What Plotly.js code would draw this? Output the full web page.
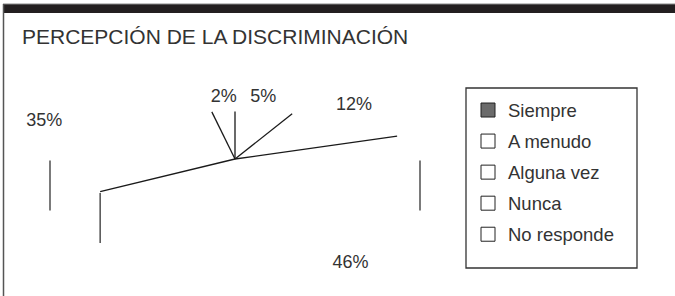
<!DOCTYPE html>
<html>
<head>
<meta charset="utf-8">
<script src="https://cdn.plot.ly/plotly-3.0.1.min.js"></script>
<style>html,body{margin:0;padding:0;background:#fff;}#chart{width:675px;height:296px;}</style>
</head>
<body>
<div id="chart"></div>
<script>
// ---- data ----
const categories = ["Siempre", "A menudo", "Alguna vez", "Nunca", "No responde"];
const values = [2, 5, 12, 46, 35];
const valueLabels = ["2%", "5%", "12%", "46%", "35%"];
const chartTitle = "PERCEPCIÓN DE LA DISCRIMINACIÓN";

// ---- styles / geometry of the drawn 3D pie (pixel units of the axes) ----
const W = 675, H = 296;
const cx = 235, cy = 159, ra = 185, rb = 47.5, depth = 50;
const labelRa = 240, labelRb = 62, labelSquash = 0.75;
const fills = ["#6b6b6b", "#ffffff", "#ffffff", "#ffffff", "#ffffff"];
const FONT = "Liberation Sans, Arial, sans-serif";

const total = values.reduce((s, v) => s + v, 0);
const deg = Math.PI / 180;
// slices go clockwise; the first slice ends at 12 o'clock
const startAngle = 90 + values[0] / total * 360;
const boundaries = [];
const mids = [];
let acc = startAngle;
values.forEach(v => {
  const sweep = v / total * 360;
  boundaries.push(acc);
  mids.push(acc - sweep / 2);
  acc -= sweep;
});
const pt = a => [cx + ra * Math.cos(a * deg), cy - rb * Math.sin(a * deg)];

// spokes on the top face
const sx = [], sy = [];
boundaries.forEach(b => {
  const p = pt(b);
  sx.push(cx, p[0], null);
  sy.push(cy, p[1], null);
});
// vertical side edges: the two extremes + front boundaries
const ex = [], ey = [];
const edgeAngles = [180, 0].concat(boundaries.filter(b => Math.sin(b * deg) < -1e-6));
edgeAngles.forEach(a => {
  const p = pt(a);
  ex.push(p[0], p[0], null);
  ey.push(p[1] + 1.5, p[1] + 1.5 + depth, null);
});
// value labels, placed on an outer ellipse, pulled toward the nearest vertical
const lx = [], ly = [];
mids.forEach(m => {
  let a = ((m % 360) + 540) % 360 - 180; // -180..180
  const front = Math.sin(a * deg) < 0;
  const ref = front ? -90 : 90;
  const t = ref + (a - ref) * (front ? 0.8 : labelSquash);
  lx.push(cx + labelRa * Math.cos(t * deg));
  ly.push(cy - labelRb * Math.sin(t * deg) + (front ? depth : 0));
});

const traces = [
  {x: sx, y: sy, mode: "lines", line: {color: "#1a1a1a", width: 1.3}, showlegend: false, hoverinfo: "skip"},
  {x: ex, y: ey, mode: "lines", line: {color: "#333333", width: 1.3}, showlegend: false, hoverinfo: "skip"},
  {x: lx, y: ly, mode: "text", text: valueLabels, textposition: "middle center",
   textfont: {family: FONT, size: 18, color: "#333333"}, showlegend: false, hoverinfo: "skip"}
];
categories.forEach((c, i) => {
  traces.push({
    x: [null], y: [null], mode: "markers", name: c, legendgroup: "g" + i,
    marker: {symbol: "square", size: 14, color: fills[i], line: {color: "#222222", width: 1}}
  });
});

const layout = {
  width: W, height: H,
  margin: {l: 0, r: 0, t: 0, b: 0},
  paper_bgcolor: "#ffffff", plot_bgcolor: "#ffffff",
  xaxis: {range: [0, W], visible: false, fixedrange: true},
  yaxis: {range: [H, 0], visible: false, fixedrange: true},
  title: {
    text: chartTitle, font: {family: FONT, size: 21, color: "#333333"},
    x: 22 / W, xanchor: "left", xref: "paper", y: 1 - 37 / H, yanchor: "middle", yref: "container"
  },
  showlegend: true,
  legend: {
    x: 468 / W, xanchor: "left", y: 1 - 91.5 / H, yanchor: "top",
    font: {family: FONT, size: 18.5, color: "#333333"},
    bgcolor: "rgba(0,0,0,0)", borderwidth: 0, tracegroupgap: 4, traceorder: "grouped"
  },
  shapes: [
    {type: "rect", xref: "x", yref: "y", x0: 3, x1: W, y0: 4, y1: 13, fillcolor: "#231f20", line: {width: 0}},
    {type: "line", xref: "x", yref: "y", x0: 3, x1: W, y0: 4, y1: 4, line: {color: "#888888", width: 1}},
    {type: "line", xref: "x", yref: "y", x0: 3.5, x1: 3.5, y0: 4, y1: H, line: {color: "#555555", width: 1.5}},
    {type: "rect", xref: "x", yref: "y", x0: 466, x1: 637, y0: 88, y1: 268, line: {color: "#333333", width: 1.3}}
  ],
  hovermode: false
};

Plotly.newPlot("chart", traces, layout, {displayModeBar: false, staticPlot: true});
</script>
</body>
</html>
